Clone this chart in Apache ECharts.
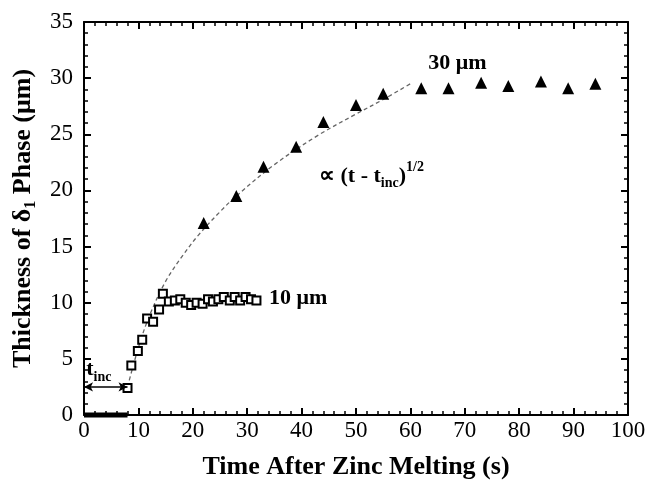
<!DOCTYPE html>
<html>
<head>
<meta charset="utf-8">
<script src="https://cdn.jsdelivr.net/npm/echarts@6/dist/echarts.min.js"></script>
<style>
  html, body { margin: 0; padding: 0; background: #fff; }
  #chart { width: 651px; height: 482px; }
</style>
</head>
<body>
<div id="chart"></div>
<script>
// 10 um coating (open squares)
const squareTime = [8.0, 8.7, 9.9, 10.7, 11.6, 12.7, 13.8, 14.5,
  15.6, 16.7, 17.7, 18.7, 19.7, 20.7, 21.8, 22.8, 23.7, 24.7, 25.7, 26.8, 27.7, 28.7, 29.7, 30.7, 31.7];
const squareThickness = [2.4, 4.4, 5.7, 6.7, 8.6, 8.3, 9.4, 10.8,
  10.1, 10.2, 10.3, 10.0, 9.8, 10.0, 9.9, 10.3, 10.1, 10.3, 10.5, 10.2, 10.5, 10.2, 10.5, 10.3, 10.2];

// 30 um coating (filled triangles)
const triangleTime = [22, 28, 33, 39, 44, 50, 55, 62, 67, 73, 78, 84, 89, 94];
const triangleThickness = [17.1, 19.5, 22.1, 23.9, 26.1, 27.6, 28.6, 29.1, 29.1, 29.6, 29.3, 29.7, 29.1, 29.5];

// dashed parabolic guide
const fitTime = [8, 10, 12, 15, 18, 21, 25, 28, 35, 43, 50, 55, 60];
const fitThickness = [2.5, 6.0, 8.8, 11.9, 14.1, 16.0, 18.1, 19.5, 22.3, 24.9, 26.8, 28.1, 29.5];

// incubation period
const incTime = [0, 8];
const incLevel = 2.5;

const xTicks = { min: 0, max: 100, step: 10 };
const yTicks = { min: 0, max: 35, step: 5 };

// annotation anchors (data units)
const notes = [
  { at: [63.3, 31.3], text: '{b|30 μm}' },
  { at: [34.0, 10.4], text: '{b|10 μm}' },
  { at: [43.2, 21.3], text: '{b|∝ (t - t}{sub|inc}{b|)}{sup|1/2}' },
  { at: [0.4, 4.1], text: '{b|t}{sub|inc}' }
];

const FONT = 'Liberation Serif';
const richText = {
  b: { fontFamily: FONT, fontWeight: 'bold', fontSize: 22, lineHeight: 30, color: '#000' },
  sub: { fontFamily: FONT, fontWeight: 'bold', fontSize: 14, lineHeight: 15, verticalAlign: 'bottom', color: '#000' },
  sup: { fontFamily: FONT, fontWeight: 'bold', fontSize: 14, lineHeight: 15, verticalAlign: 'top', color: '#000' }
};

const chart = echarts.init(document.getElementById('chart'), null, { renderer: 'canvas' });

function valueAxis(r, extra) {
  return Object.assign({
    type: 'value',
    min: r.min,
    max: r.max,
    interval: r.step,
    axisLine: { show: true, onZero: false, lineStyle: { color: '#000', width: 2 } },
    axisTick: { show: true, inside: true, length: 7, lineStyle: { color: '#000', width: 2 } },
    minorTick: { show: true, splitNumber: 5, length: 4, lineStyle: { color: '#000', width: 1.5 } },
    splitLine: { show: false },
    minorSplitLine: { show: false }
  }, extra);
}

const labelStyle = { color: '#000', fontFamily: FONT, fontSize: 23 };

const option = {
  backgroundColor: '#fff',
  animation: false,
  grid: { left: 84, right: 23, top: 22, bottom: 67, containLabel: false, outerBoundsMode: 'none' },
  xAxis: [
    valueAxis(xTicks, {
      position: 'bottom',
      axisLabel: Object.assign({ margin: 4 }, labelStyle),
      name: 'Time After Zinc Melting (s)',
      nameLocation: 'middle',
      nameGap: 39,
      nameTextStyle: { color: '#000', fontFamily: FONT, fontWeight: 'bold', fontSize: 26 }
    }),
    valueAxis(xTicks, { position: 'top', axisLabel: { show: false } })
  ],
  yAxis: [
    valueAxis(yTicks, {
      position: 'left',
      axisLabel: Object.assign({ margin: 11 }, labelStyle),
      name: '{b|Thickness of δ}{sub|1}{b| Phase (μm)}',
      nameLocation: 'middle',
      nameGap: 37,
      nameTextStyle: {
        rich: {
          b: { fontFamily: FONT, fontWeight: 'bold', fontSize: 26, lineHeight: 32, color: '#000' },
          sub: { fontFamily: FONT, fontWeight: 'bold', fontSize: 16, lineHeight: 16, verticalAlign: 'bottom', color: '#000' }
        }
      }
    }),
    valueAxis(yTicks, { position: 'right', axisLabel: { show: false } })
  ],
  series: [
    {
      name: 'fit',
      type: 'line',
      data: fitTime.map((t, i) => [t, fitThickness[i]]),
      smooth: 0.35,
      showSymbol: false,
      symbol: 'none',
      lineStyle: { color: '#666', width: 1.3, type: [4, 3] },
      z: 1
    },
    {
      name: 'base',
      type: 'line',
      data: incTime.map(t => [t, 0]),
      symbol: 'none',
      clip: false,
      lineStyle: { color: '#000', width: 5 },
      markLine: {
        silent: true,
        symbol: ['arrow', 'arrow'],
        symbolSize: [7, 9],
        label: { show: false },
        lineStyle: { color: '#000', width: 1.5, type: 'solid' },
        data: [[{ coord: [incTime[0], incLevel] }, { coord: [incTime[1], incLevel] }]]
      },
      z: 3
    },
    {
      name: '10 um',
      type: 'scatter',
      data: squareTime.map((t, i) => [t, squareThickness[i]]),
      symbol: 'rect',
      symbolSize: 8,
      itemStyle: { color: '#fff', borderColor: '#000', borderWidth: 2, opacity: 1 },
      z: 4
    },
    {
      name: '30 um',
      type: 'scatter',
      data: triangleTime.map((t, i) => [t, triangleThickness[i]]),
      symbol: 'triangle',
      symbolSize: 12,
      itemStyle: { color: '#000', opacity: 1 },
      z: 4
    },
    {
      name: 'notes',
      type: 'scatter',
      symbolSize: 0,
      silent: true,
      itemStyle: { opacity: 1 },
      data: notes.map(n => ({ value: n.at, label: { formatter: n.text } })),
      label: { show: true, position: 'right', distance: 0, rich: richText },
      z: 5
    }
  ]
};

chart.setOption(option);
</script>
</body>
</html>
